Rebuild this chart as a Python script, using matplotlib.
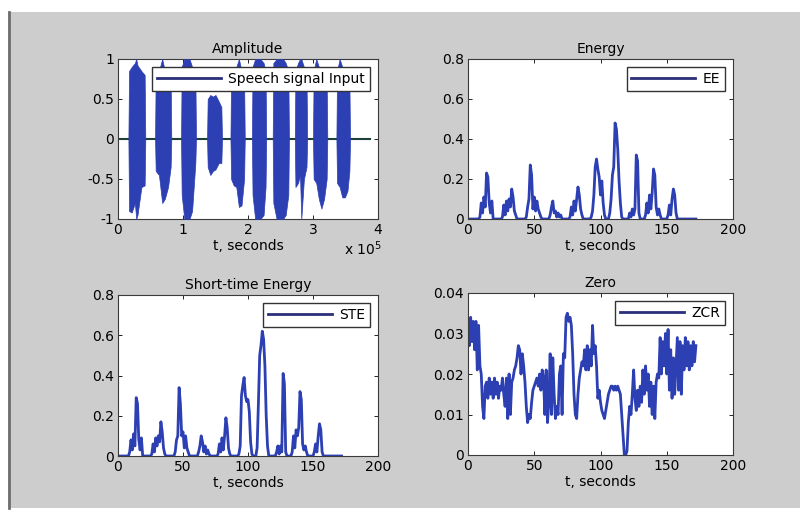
import numpy as np
import matplotlib
matplotlib.use('Agg')
import matplotlib.pyplot as plt
from matplotlib.patches import Rectangle
from matplotlib.lines import Line2D

# speech signal, drawn as burst envelopes (time in units of 1e5 samples)
burst_t = [
    [0.16, 0.17, 0.21, 0.26, 0.28, 0.30, 0.36, 0.41, 0.42],
    [0.57, 0.58, 0.63, 0.68, 0.72, 0.77, 0.81, 0.82],
    [0.97, 0.98, 1.02, 1.06, 1.10, 1.14, 1.19, 1.20],
    [1.37, 1.38, 1.42, 1.46, 1.50, 1.55, 1.59, 1.60],
    [1.73, 1.74, 1.78, 1.82, 1.86, 1.90, 1.94, 1.95],
    [2.06, 2.07, 2.11, 2.15, 2.19, 2.24, 2.27, 2.28],
    [2.38, 2.39, 2.44, 2.49, 2.54, 2.58, 2.62, 2.63],
    [2.72, 2.73, 2.77, 2.80, 2.82, 2.86, 2.90, 2.91],
    [3.00, 3.01, 3.05, 3.09, 3.13, 3.17, 3.21, 3.22],
    [3.36, 3.37, 3.41, 3.45, 3.49, 3.53, 3.56, 3.57],
]
burst_hi = [
    [0, 0.85, 0.9, 0.95, 1.0, 0.92, 0.85, 0.8, 0],
    [0, 0.8, 0.85, 1.0, 0.85, 0.8, 0.75, 0],
    [0, 0.9, 1.0, 1.0, 1.0, 0.9, 0.8, 0],
    [0, 0.5, 0.55, 0.53, 0.55, 0.47, 0.4, 0],
    [0, 0.8, 0.85, 0.9, 1.0, 0.85, 0.75, 0],
    [0, 0.9, 1.0, 1.0, 1.0, 0.95, 0.85, 0],
    [0, 0.95, 1.0, 1.0, 1.0, 0.95, 0.85, 0],
    [0, 0.85, 0.95, 1.0, 1.0, 0.9, 0.8, 0],
    [0, 0.85, 1.0, 0.9, 0.85, 0.8, 0.75, 0],
    [0, 0.85, 1.0, 0.9, 0.85, 0.8, 0.7, 0],
]
burst_lo = [
    [0, -0.9, -0.92, -0.8, -1.0, -0.95, -0.6, -0.58, 0],
    [0, -0.4, -0.45, -0.8, -0.75, -0.6, -0.35, 0],
    [0, -0.7, -1.0, -1.0, -1.0, -0.9, -0.3, 0],
    [0, -0.35, -0.45, -0.4, -0.38, -0.3, -0.3, 0],
    [0, -0.5, -0.58, -0.6, -0.85, -0.83, -0.5, 0],
    [0, -0.7, -1.0, -1.0, -1.0, -0.95, -0.6, 0],
    [0, -0.8, -1.0, -1.0, -1.0, -0.95, -0.7, 0],
    [0, -0.6, -0.55, -0.45, -1.0, -0.5, -0.35, 0],
    [0, -0.5, -0.55, -0.75, -0.87, -0.75, -0.5, 0],
    [0, -0.55, -0.6, -0.73, -0.73, -0.65, -0.4, 0],
]
signal_end = 3.88

# per-frame features
ee = [
    0, 0, 0, 0, 0, 0, 0, 0, 0, 0.01,
    0.08, 0.03, 0.11, 0.06, 0.23, 0.21, 0.08, 0.03, 0.09, 0,
    0, 0, 0, 0, 0, 0, 0.01, 0.07, 0.02, 0.09,
    0.04, 0.10, 0.06, 0.15, 0.11, 0.04, 0.02, 0, 0, 0,
    0, 0, 0, 0, 0.01, 0.06, 0.10, 0.27, 0.22, 0.05,
    0.11, 0.04, 0.09, 0.05, 0.03, 0.01, 0, 0, 0, 0,
    0, 0, 0.02, 0.06, 0.09, 0.03, 0.04, 0.01, 0.03, 0.01,
    0.02, 0, 0, 0, 0, 0, 0, 0.01, 0.06, 0.02,
    0.09, 0.04, 0.10, 0.16, 0.12, 0.05, 0.02, 0, 0, 0,
    0, 0, 0, 0.01, 0.04, 0.12, 0.26, 0.30, 0.25, 0.21,
    0.12, 0.19, 0.08, 0.02, 0, 0, 0, 0.03, 0.10, 0.22,
    0.26, 0.48, 0.45, 0.35, 0.19, 0.08, 0.01, 0, 0, 0,
    0, 0, 0.03, 0.01, 0.05, 0.02, 0.05, 0.32, 0.29, 0.03,
    0, 0, 0, 0, 0.02, 0.08, 0.03, 0.12, 0.05, 0.13,
    0.25, 0.22, 0.06, 0.02, 0.05, 0.02, 0, 0, 0, 0,
    0, 0.02, 0.07, 0.02, 0.10, 0.15, 0.12, 0.03, 0, 0,
    0, 0, 0, 0, 0, 0, 0, 0, 0, 0,
    0, 0, 0,
]
ste = [
    0, 0, 0, 0, 0, 0, 0, 0, 0, 0.02,
    0.08, 0.03, 0.11, 0.05, 0.29, 0.26, 0.08, 0.03, 0.09, 0,
    0, 0, 0, 0, 0, 0, 0.01, 0.06, 0.02, 0.09,
    0.05, 0.10, 0.07, 0.17, 0.12, 0.04, 0.01, 0, 0, 0,
    0, 0, 0, 0, 0.02, 0.08, 0.10, 0.34, 0.26, 0.10,
    0.12, 0.04, 0.10, 0.04, 0.02, 0, 0, 0, 0, 0,
    0, 0, 0.02, 0.05, 0.10, 0.07, 0.02, 0.05, 0.01, 0.03,
    0.01, 0, 0, 0, 0, 0, 0, 0.01, 0.06, 0.02,
    0.09, 0.03, 0.10, 0.19, 0.14, 0.04, 0.01, 0, 0, 0,
    0, 0, 0, 0.01, 0.05, 0.30, 0.35, 0.39, 0.30, 0.27,
    0.28, 0.22, 0.07, 0.01, 0, 0, 0, 0.04, 0.26, 0.50,
    0.55, 0.62, 0.58, 0.45, 0.20, 0.05, 0, 0, 0, 0,
    0, 0, 0.02, 0.05, 0.01, 0.05, 0.02, 0.41, 0.36, 0.02,
    0, 0, 0, 0, 0.02, 0.10, 0.04, 0.13, 0.10, 0.14,
    0.32, 0.28, 0.06, 0.03, 0.05, 0.02, 0, 0, 0, 0,
    0, 0.02, 0.06, 0.02, 0.10, 0.16, 0.13, 0.02, 0, 0,
    0, 0, 0, 0, 0, 0, 0, 0, 0, 0,
    0, 0, 0,
]
zcr = [
    0.033, 0.027, 0.034, 0.028, 0.033, 0.026, 0.033, 0.021, 0.032, 0.022,
    0.020, 0.012, 0.009, 0.017, 0.018, 0.014, 0.019, 0.015, 0.018, 0.014,
    0.019, 0.015, 0.018, 0.014, 0.017, 0.016, 0.019, 0.015, 0.012, 0.019,
    0.009, 0.020, 0.010, 0.018, 0.019, 0.021, 0.022, 0.024, 0.027, 0.026,
    0.020, 0.025, 0.022, 0.018, 0.012, 0.008, 0.010, 0.009, 0.013, 0.016,
    0.017, 0.018, 0.019, 0.017, 0.020, 0.016, 0.021, 0.019, 0.010, 0.021,
    0.008, 0.013, 0.025, 0.010, 0.024, 0.015, 0.009, 0.012, 0.010, 0.020,
    0.022, 0.010, 0.025, 0.024, 0.034, 0.035, 0.033, 0.034, 0.032, 0.025,
    0.015, 0.010, 0.009, 0.015, 0.019, 0.021, 0.023, 0.022, 0.026, 0.021,
    0.027, 0.021, 0.026, 0.022, 0.032, 0.025, 0.027, 0.022, 0.014, 0.016,
    0.013, 0.011, 0.010, 0.009, 0.011, 0.013, 0.015, 0.016, 0.017, 0.017,
    0.016, 0.017, 0.016, 0.017, 0.016, 0.015, 0.010, 0.005, 0.000, 0.000,
    0.001, 0.008, 0.012, 0.010, 0.015, 0.021, 0.014, 0.011, 0.016, 0.012,
    0.017, 0.013, 0.021, 0.015, 0.022, 0.016, 0.020, 0.012, 0.018, 0.010,
    0.017, 0.009, 0.018, 0.020, 0.019, 0.029, 0.020, 0.028, 0.022, 0.030,
    0.020, 0.031, 0.016, 0.026, 0.014, 0.024, 0.015, 0.022, 0.029, 0.016,
    0.028, 0.015, 0.027, 0.021, 0.029, 0.022, 0.028, 0.021, 0.027, 0.022,
    0.028, 0.023, 0.027,
]
frames = np.arange(len(ee))

blue = '#2c3fb3'
navy = '#2a2f7a'
plt.rcParams['font.family'] = ['DejaVu Sans']

W, H = 800, 518
fig = plt.figure(figsize=(8, 5.18), dpi=100, facecolor='white')

def box(x0, y0, x1, y1):
    return [x0 / W, 1 - y1 / H, (x1 - x0) / W, (y1 - y0) / H]

# grey figure panel like a matlab window
fig.patches.append(Rectangle((8 / W, 1 - 508 / H), 1, 496 / H,
                             transform=fig.transFigure, facecolor='#cdcdcd',
                             edgecolor='none', zorder=-10))
fig.lines.append(Line2D([9 / W, 9 / W], [1 - 508 / H, 1 - 12 / H],
                        transform=fig.transFigure, color='#6e6e6e', lw=2))

def style(ax):
    ax.set_facecolor('white')
    ax.tick_params(direction='in', top=True, right=True, labelsize=10,
                   length=3, width=0.6, colors='black', pad=3)
    for s in ax.spines.values():
        s.set_color('#3a3a3a')
        s.set_linewidth(0.8)
    ax.set_xlabel('t, seconds', fontsize=10, labelpad=1)

def add_legend(ax, label):
    h = Line2D([], [], color=navy, lw=2)
    ax.legend([h], [label], loc='upper right', fontsize=10, fancybox=False,
              edgecolor='#333333', framealpha=1, handlelength=4.6,
              borderaxespad=0.6, borderpad=0.35, handletextpad=0.5)

# Amplitude
ax1 = fig.add_axes(box(118, 59, 378, 219))
ax1.plot([0, signal_end], [0, 0], color='#1f3f3a', lw=1.5, zorder=2)
for t, hi, lo in zip(burst_t, burst_hi, burst_lo):
    ax1.fill_between(t, lo, hi, color=blue, lw=0.5, zorder=3)
ax1.set_xlim(0, 4)
ax1.set_ylim(-1, 1)
ax1.set_xticks([0, 1, 2, 3, 4])
ax1.set_yticks([-1, -0.5, 0, 0.5, 1])
ax1.set_yticklabels(['-1', '-0.5', '0', '0.5', '1'])
ax1.set_title('Amplitude', fontsize=10, pad=4)
style(ax1)
ax1.text(1.015, -0.125, r'x 10$^5$', transform=ax1.transAxes, ha='right',
         va='top', fontsize=10)
add_legend(ax1, 'Speech signal Input')

# Energy
ax2 = fig.add_axes(box(468, 59, 733, 219))
ax2.plot(frames, ee, color=blue, lw=2)
ax2.set_xlim(0, 200)
ax2.set_ylim(0, 0.8)
ax2.set_xticks([0, 50, 100, 150, 200])
ax2.set_yticks([0, 0.2, 0.4, 0.6, 0.8])
ax2.set_yticklabels(['0', '0.2', '0.4', '0.6', '0.8'])
ax2.set_title('Energy', fontsize=10, pad=4)
style(ax2)
add_legend(ax2, 'EE')

# Short-time energy
ax3 = fig.add_axes(box(118, 295, 378, 456))
ax3.plot(frames, ste, color=blue, lw=2)
ax3.set_xlim(0, 200)
ax3.set_ylim(0, 0.8)
ax3.set_xticks([0, 50, 100, 150, 200])
ax3.set_yticks([0, 0.2, 0.4, 0.6, 0.8])
ax3.set_yticklabels(['0', '0.2', '0.4', '0.6', '0.8'])
ax3.set_title('Short-time Energy', fontsize=10, pad=4)
style(ax3)
add_legend(ax3, 'STE')

# Zero crossing rate
ax4 = fig.add_axes(box(468, 293, 733, 455))
ax4.plot(frames, zcr, color=blue, lw=2)
ax4.set_xlim(0, 200)
ax4.set_ylim(0, 0.04)
ax4.set_xticks([0, 50, 100, 150, 200])
ax4.set_yticks([0, 0.01, 0.02, 0.03, 0.04])
ax4.set_yticklabels(['0', '0.01', '0.02', '0.03', '0.04'])
ax4.set_title('Zero', fontsize=10, pad=4)
style(ax4)
add_legend(ax4, 'ZCR')

fig.savefig('out.png', dpi=100)
